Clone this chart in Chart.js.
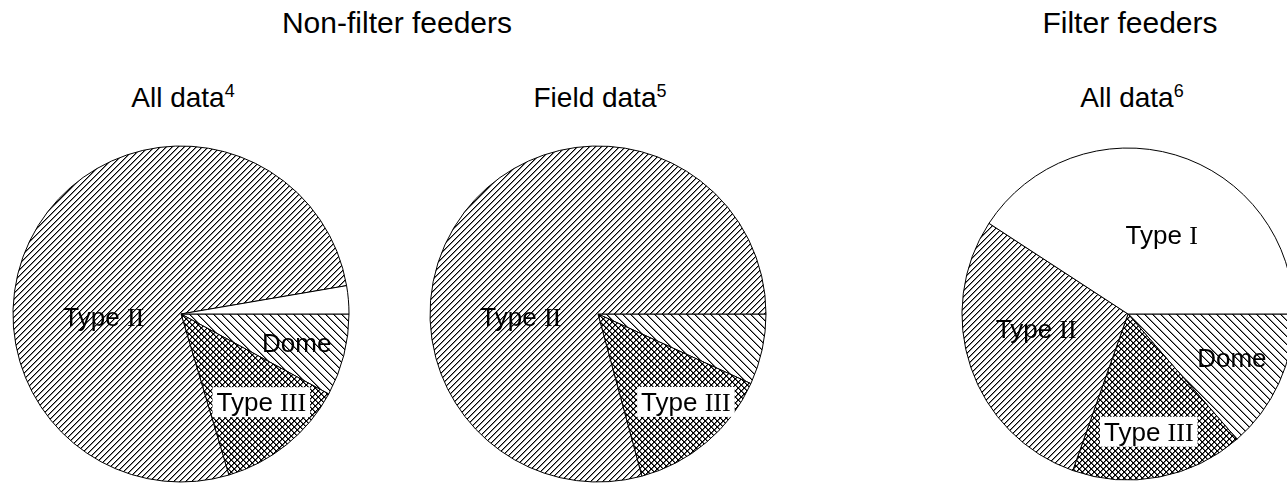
<!DOCTYPE html>
<html>
<head>
<meta charset="utf-8">
<script src="https://cdn.jsdelivr.net/npm/chart.js@4/dist/chart.umd.min.js"></script>
<style>
  html, body { margin: 0; padding: 0; background: #fff; width: 1287px; height: 484px; overflow: hidden; }
  .t { position: absolute; font-family: "Liberation Sans", Arial, sans-serif; color: #000; white-space: nowrap; transform: translateX(-50%); }
  .main { font-size: 30px; line-height: 30px; }
  .sub { font-size: 28px; line-height: 28px; }
  .sub sup { font-size: 18px; position: relative; top: -2px; vertical-align: top; line-height: 18px; }
  canvas { position: absolute; }
</style>
</head>
<body>
<div class="t main" style="left:397px; top:8px;">Non-filter feeders</div>
<div class="t main" style="left:1130px; top:8px;">Filter feeders</div>
<div class="t sub" style="left:183px; top:84px;">All data<sup>4</sup></div>
<div class="t sub" style="left:600px; top:84px;">Field data<sup>5</sup></div>
<div class="t sub" style="left:1132px; top:84px;">All data<sup>6</sup></div>

<canvas id="p1" width="344" height="344" style="left:9px; top:142px;"></canvas>
<canvas id="p2" width="344" height="344" style="left:426px; top:142px;"></canvas>
<canvas id="p3" width="344" height="344" style="left:956px; top:142px;"></canvas>

<script>
// ---- data ----
const categories = ['Dome', 'Type III', 'Type II', 'Type I'];
const nonFilterAll = [7.9, 12.5, 76.9, 2.7];
const nonFilterField = [6.8, 14.0, 79.2, 0];
const filterAll = [13.6, 16.8, 28.8, 40.8];

// ---- styles ----
function makePattern(size, kind) {
  const c = document.createElement('canvas');
  c.width = size; c.height = size;
  const g = c.getContext('2d');
  g.fillStyle = '#fff';
  g.fillRect(0, 0, size, size);
  const gray = kind === 'cross' ? '#6a6a6a' : '#8a8a8a';
  for (let i = 0; i < size; i++) {
    if (kind === 'fwd' || kind === 'cross') {
      g.fillStyle = gray;
      g.fillRect((i + 1) % size, size - 1 - i, 1, 1);
    }
    if (kind === 'back' || kind === 'cross') {
      g.fillStyle = gray;
      g.fillRect((i + 1) % size, i, 1, 1);
    }
  }
  for (let i = 0; i < size; i++) {
    g.fillStyle = '#000';
    if (kind === 'fwd' || kind === 'cross') g.fillRect(i, size - 1 - i, 1, 1);
    if (kind === 'back' || kind === 'cross') g.fillRect(i, i, 1, 1);
  }
  return g.createPattern(c, 'repeat');
}
const fills = {
  'Dome': makePattern(8, 'back'),
  'Type III': makePattern(6, 'cross'),
  'Type II': makePattern(6, 'fwd'),
  'Type I': '#ffffff'
};

// label placement: angle (deg, clockwise from 3 o'clock) and radius fraction
const placements = {
  p1: [
    { cat: 'Type II', angle: 178, r: 0.46 },
    { cat: 'Dome', angle: 14, r: 0.71 },
    { cat: 'Type III', angle: 47.7, r: 0.71, box: true }
  ],
  p2: [
    { cat: 'Type II', angle: 178, r: 0.46 },
    { cat: 'Type III', angle: 45, r: 0.74, box: true }
  ],
  p3: [
    { cat: 'Type I', angle: 293, r: 0.52 },
    { cat: 'Type II', angle: 171, r: 0.56 },
    { cat: 'Dome', angle: 23, r: 0.68 },
    { cat: 'Type III', angle: 80, r: 0.72, box: true }
  ]
};

const SANS = '"Liberation Sans", Arial, sans-serif';
const SERIF = '"Liberation Serif", "Times New Roman", serif';
const LABEL_SIZE = 26;

const labelPlugin = {
  id: 'sliceLabels',
  afterDatasetsDraw(chart) {
    const list = placements[chart.canvas.id] || [];
    const arc = chart.getDatasetMeta(0).data[0];
    const cx = arc.x, cy = arc.y, R = arc.outerRadius;
    const ctx = chart.ctx;
    ctx.save();
    for (const p of list) {
      const a = p.angle * Math.PI / 180;
      const x = cx + Math.cos(a) * R * p.r;
      const y = cy + Math.sin(a) * R * p.r;
      let parts;
      const m = p.cat.match(/^(Type )(I+)$/);
      if (m) parts = [[m[1], SANS], [m[2], SERIF]];
      else parts = [[p.cat, SANS]];
      let w = 0;
      const widths = parts.map(([t, f]) => {
        ctx.font = LABEL_SIZE + 'px ' + f;
        const mw = ctx.measureText(t).width;
        w += mw;
        return mw;
      });
      if (p.box) {
        ctx.fillStyle = '#fff';
        ctx.fillRect(x - w / 2 - 4, y - 15, w + 8, 30);
      }
      ctx.fillStyle = '#000';
      ctx.textBaseline = 'alphabetic';
      ctx.textAlign = 'left';
      let tx = x - w / 2;
      parts.forEach(([t, f], i) => {
        ctx.font = LABEL_SIZE + 'px ' + f;
        ctx.fillText(t, tx, y + 9);
        tx += widths[i];
      });
    }
    ctx.restore();
  }
};

function makePie(id, values, radius) {
  new Chart(document.getElementById(id), {
    type: 'pie',
    data: {
      labels: categories,
      datasets: [{
        data: values,
        backgroundColor: categories.map(c => fills[c]),
        borderColor: '#000',
        borderWidth: 1
      }]
    },
    options: {
      responsive: false,
      animation: false,
      devicePixelRatio: 1,
      rotation: 90,
      radius: radius,
      layout: { padding: 0 },
      events: [],
      plugins: {
        legend: { display: false },
        tooltip: { enabled: false },
        title: { display: false }
      }
    },
    plugins: [labelPlugin]
  });
}

makePie('p1', nonFilterAll, 168);
makePie('p2', nonFilterField, 168);
makePie('p3', filterAll, 166);
</script>
</body>
</html>
